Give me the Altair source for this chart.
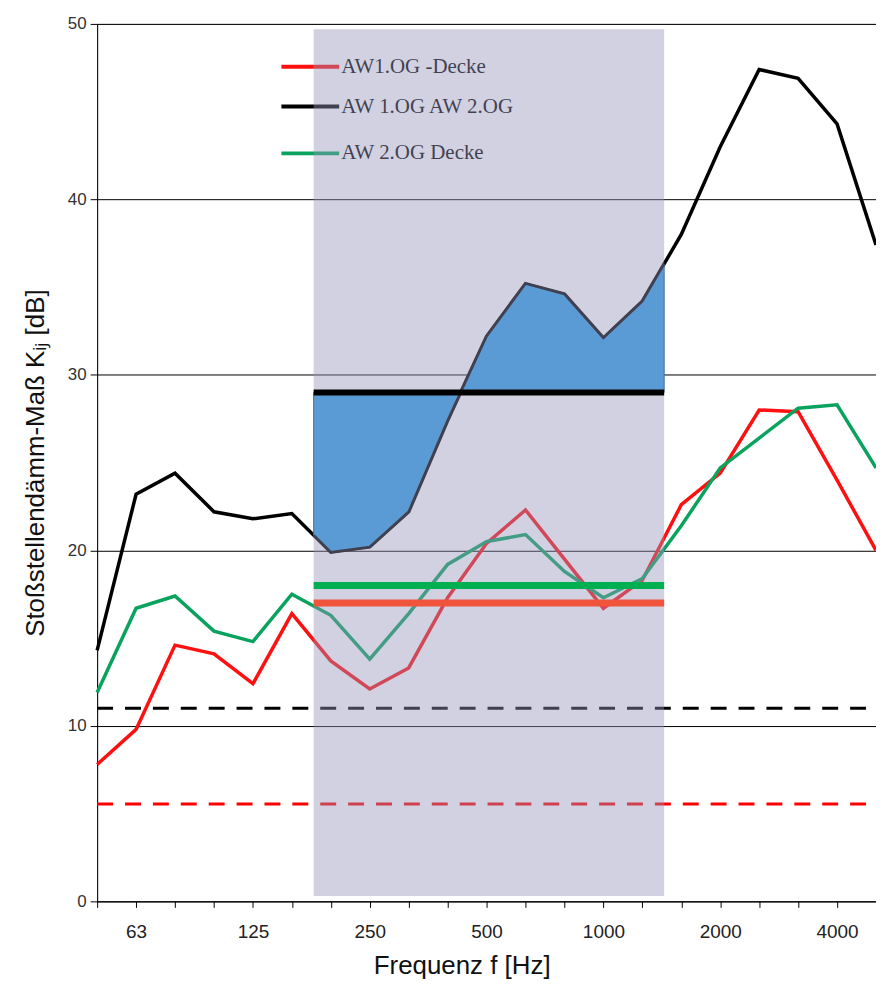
import altair as alt
import pandas as pd
import numpy as np

# third-octave bands
bands = ["50", "63", "80", "100", "125", "160", "200", "250", "315", "400", "500",
         "630", "800", "1000", "1250", "1600", "2000", "2500", "3150", "4000", "5000"]
octave_labels = ["63", "125", "250", "500", "1000", "2000", "4000"]

aw1_decke = [7.8, 9.8, 14.6, 14.1, 12.4, 16.4, 13.7, 12.1, 13.3, 17.3, 20.4,
             22.3, 19.5, 16.7, 18.3, 22.6, 24.4, 28.0, 27.9, 24.0, 20.0]
aw1_aw2 = [14.3, 23.2, 24.4, 22.2, 21.8, 22.1, 19.9, 20.2, 22.2, 27.4, 32.2,
           35.2, 34.6, 32.1, 34.2, 38.0, 43.0, 47.4, 46.9, 44.3, 37.4]
aw2_decke = [11.9, 16.7, 17.4, 15.4, 14.8, 17.5, 16.3, 13.8, 16.4, 19.2, 20.5,
             20.9, 18.8, 17.3, 18.4, 21.4, 24.7, 26.4, 28.1, 28.3, 24.7]

legend_names = ["AW1.OG -Decke", "AW 1.OG AW 2.OG", "AW 2.OG Decke"]

# mean values over the evaluation range 200..1250 Hz
mean_black = 29.0
mean_green = 18.0
mean_red = 17.0
# dashed reference levels
dash_black = 11.0
dash_red = 5.55
range_first, range_last = "200", "1250"

RED = "#ff1010"
BLACK = "#000000"
GREEN = "#0aa35e"
SANS = "'Liberation Sans', Arial, sans-serif"

W, H = 782, 881

idx = list(range(len(bands)))
df = pd.DataFrame({"idx": idx, "band": bands, "red": aw1_decke,
                   "black": aw1_aw2, "green": aw2_decke})

lo = bands.index(range_first) - 0.44
hi = bands.index(range_last) + 0.56
reg_idx = [lo] + [i for i in idx if lo < i < hi] + [hi]
reg_df = pd.DataFrame({"idx": reg_idx,
                       "black": np.interp(reg_idx, idx, aw1_aw2),
                       "base": mean_black})

oct_pos = [bands.index(b) for b in octave_labels]
label_expr = ("indexof(%s, datum.value) >= 0 ? %s[datum.value] : ''"
              % (str(oct_pos), str(bands)))

xscale = alt.Scale(domain=[0, len(bands) - 1], nice=False, zero=False)
yscale = alt.Scale(domain=[0, 50], nice=False)

xaxis = alt.Axis(values=idx, labelExpr=label_expr, grid=False, tickSize=6,
                 tickColor="black", domainColor="black", labelPadding=15,
                 labelOverlap=False, labelFont=SANS, labelFontSize=19,
                 labelColor="#222", title="Frequenz f [Hz]",
                 titleFont=SANS, titleFontSize=26,
                 titleFontWeight="normal", titleColor="#111",
                 titleX=366, titleY=51, titleBaseline="top")
yaxis = alt.Axis(values=[0, 10, 20, 30, 40, 50], grid=True, gridColor="black",
                 gridWidth=1, tickSize=7, tickColor="black", domainColor="black",
                 labelFont=SANS, labelFontSize=17,
                 labelColor="#333", labelPadding=4,
                 title="Stoßstellendämm-Maß Kᵢⱼ [dB]",
                 titleFont=SANS, titleFontSize=26,
                 titleFontWeight="normal", titleColor="#111", titlePadding=19)

one = pd.DataFrame({"k": [0]})


def series_line(col, color):
    return alt.Chart(df).mark_line(color=color, strokeWidth=3.5, strokeJoin="miter").encode(
        x=alt.X("idx:Q", scale=xscale, axis=xaxis),
        y=alt.Y(f"{col}:Q", scale=yscale, axis=yaxis),
    )


def hdash(v, color):
    return alt.Chart(one).mark_rule(color=color, strokeWidth=3, strokeDash=[16, 12]).encode(
        x=alt.XDatum(0, scale=xscale, axis=xaxis),
        x2=alt.X2Datum(len(bands) - 1),
        y=alt.YDatum(v, scale=yscale, axis=yaxis))


legend_layers = []
leg_colors = [RED, BLACK, GREEN]
leg_y = [43, 83, 130]
for name, col, yy in zip(legend_names, leg_colors, leg_y):
    legend_layers.append(alt.Chart(one).mark_rule(color=col, strokeWidth=4).encode(
        x=alt.value(185), x2=alt.value(243), y=alt.value(yy)))
    legend_layers.append(alt.Chart(one).mark_text(
        text=name, align="left", baseline="middle", font="'Liberation Serif', serif",
        fontSize=21, color="#000").encode(x=alt.value(245), y=alt.value(yy)))

overlay = alt.Chart(one).mark_rect(color="#9595ba", opacity=0.43).encode(
    x=alt.XDatum(lo, scale=xscale, axis=xaxis), x2=alt.X2Datum(hi),
    y=alt.YDatum(0.3, scale=yscale, axis=yaxis), y2=alt.Y2Datum(49.7))

blue_area = alt.Chart(reg_df).mark_area(color="#5b9bd5", opacity=1, stroke="#41719c",
                                        strokeWidth=1).encode(
    x=alt.X("idx:Q", scale=xscale, axis=xaxis),
    y=alt.Y("black:Q", scale=yscale, axis=yaxis), y2="base:Q")
blue_edge = alt.Chart(reg_df).mark_line(color="#404050", strokeWidth=2.5).encode(
    x=alt.X("idx:Q", scale=xscale, axis=xaxis),
    y=alt.Y("black:Q", scale=yscale, axis=yaxis))


def mean_bar(v, color, w):
    return alt.Chart(one).mark_rule(color=color, strokeWidth=w).encode(
        x=alt.XDatum(lo, scale=xscale, axis=xaxis), x2=alt.X2Datum(hi),
        y=alt.YDatum(v, scale=yscale, axis=yaxis))


chart = alt.layer(
    series_line("red", RED),
    series_line("green", GREEN),
    series_line("black", BLACK),
    hdash(dash_black, "black"),
    hdash(dash_red, "#ff0000"),
    *legend_layers,
    overlay,
    blue_area, blue_edge,
    mean_bar(mean_black, "black", 6),
    mean_bar(mean_green, "#00b050", 7),
    mean_bar(mean_red, "#f0543c", 7),
).properties(
    width=W, height=H,
    autosize=alt.AutoSizeParams(type="none"),
    padding={"left": 89.5, "top": 14, "right": 0, "bottom": 76},
    background="white",
).configure_view(stroke="#a0a0a0", strokeWidth=1
).configure_axisX(labelOverlap=False, labelBound=False, labelFlush=False)

chart.save("out.html", embed_options={"renderer": "svg", "actions": False})
